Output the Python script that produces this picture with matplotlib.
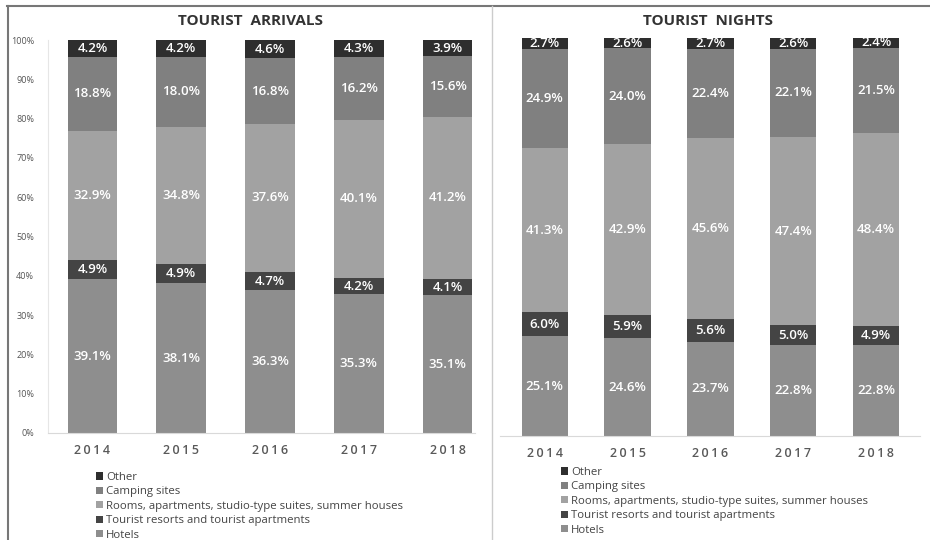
import numpy as np
import matplotlib
matplotlib.use('Agg')
import matplotlib.pyplot as plt
from matplotlib.lines import Line2D
from matplotlib.patches import Patch

plt.rcParams['font.family'] = ['Open Sans', 'DejaVu Sans']

years = ['2014', '2015', '2016', '2017', '2018']
categories = ['Hotels', 'Tourist resorts and tourist apartments',
              'Rooms, apartments, studio-type suites, summer houses',
              'Camping sites', 'Other']

# shares in %, bottom to top
arrivals = [
    [39.1, 38.1, 36.3, 35.3, 35.1],
    [4.9, 4.9, 4.7, 4.2, 4.1],
    [32.9, 34.8, 37.6, 40.1, 41.2],
    [18.8, 18.0, 16.8, 16.2, 15.6],
    [4.2, 4.2, 4.6, 4.3, 3.9],
]
nights = [
    [25.1, 24.6, 23.7, 22.8, 22.8],
    [6.0, 5.9, 5.6, 5.0, 4.9],
    [41.3, 42.9, 45.6, 47.4, 48.4],
    [24.9, 24.0, 22.4, 22.1, 21.5],
    [2.7, 2.6, 2.7, 2.6, 2.4],
]
colors = ['#8e8e8e', '#444444', '#a2a2a2', '#808080', '#2e2e2e']

W, H = 930, 540
fig = plt.figure(figsize=(9.3, 5.4), dpi=100)


def px_axes(x0, y_top, x1, y_bot):
    return fig.add_axes([x0 / W, 1 - y_bot / H, (x1 - x0) / W, (y_bot - y_top) / H])


def draw_panel(ax, data, title, xlim, title_x, show_yticks):
    x = np.arange(len(years))
    bottom = np.zeros(len(years))
    for vals, col in zip(data, colors):
        vals = np.array(vals)
        ax.bar(x, vals, 0.56, bottom=bottom, color=col, edgecolor='none')
        for xi, b, v in zip(x, bottom, vals):
            ax.text(xi, b + v / 2, '%.1f%%' % v, ha='center', va='center',
                    color='white', fontsize=9.5, fontweight='semibold')
        bottom += vals
    ax.set_ylim(0, 100)
    ax.set_xlim(*xlim)
    ax.set_xticks(x)
    ax.set_xticklabels(['\u2009'.join(y) for y in years], fontsize=9,
                       color='#595959', fontweight='semibold')
    ax.tick_params(axis='x', length=0, pad=8)
    for s in ['top', 'right']:
        ax.spines[s].set_visible(False)
    ax.spines['bottom'].set_color('#d9d9d9')
    if show_yticks:
        ax.spines['left'].set_color('#e6e6e6')
        ax.set_yticks(np.arange(0, 101, 10))
        ax.set_yticklabels(['%d%%' % t for t in range(0, 101, 10)],
                           fontsize=6.5, color='#555555')
        ax.tick_params(axis='y', length=0, pad=10)
    else:
        ax.spines['left'].set_visible(False)
        ax.set_yticks([])
    fig.text(title_x / W, 1 - 21 / H, title, ha='center', va='center',
             fontsize=11, fontweight='bold', color='#333333')


ax1 = px_axes(48, 40, 475, 433)
draw_panel(ax1, arrivals, 'TOURIST  ARRIVALS', (-0.5, 4.31), 250, True)
ax2 = px_axes(500, 38, 920, 436)
draw_panel(ax2, nights, 'TOURIST  NIGHTS', (-0.54, 4.53), 708, False)

handles = [Patch(facecolor=c, edgecolor='none') for c in colors][::-1]
labels = categories[::-1]
for lx, ly in [(96, 472), (561, 467)]:
    fig.legend(handles, labels, loc='upper left', bbox_to_anchor=(lx / W, 1 - ly / H),
               frameon=False, fontsize=8.2, handlelength=0.6, handleheight=0.6,
               handletextpad=0.3, labelspacing=0.3, borderpad=0, borderaxespad=0,
               labelcolor='#444444')

# frame lines
fig.add_artist(Line2D([7 / W, 1], [1 - 6 / H] * 2, color='#777777', lw=1.5))
fig.add_artist(Line2D([8 / W] * 2, [0, 1 - 6 / H], color='#777777', lw=1.5))
fig.add_artist(Line2D([492 / W] * 2, [0, 1 - 6 / H], color='#cccccc', lw=1))

fig.savefig('out.png', dpi=100)
